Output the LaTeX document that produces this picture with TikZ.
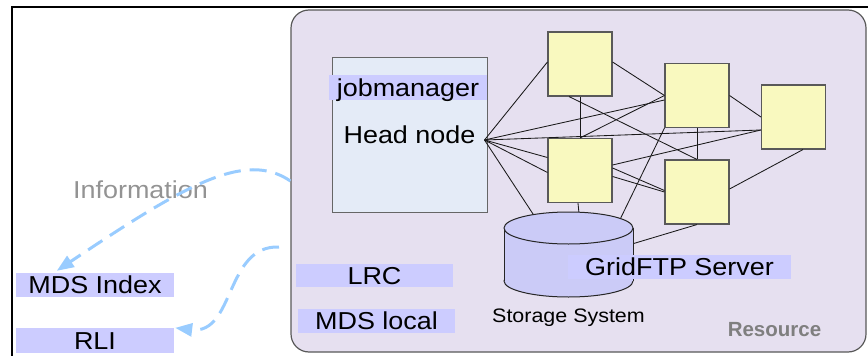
\documentclass[tikz,border=0pt]{standalone}
\usepackage{fontspec}
\setmainfont{Liberation Sans}
\usetikzlibrary{arrows.meta,calc}
\definecolor{resfill}{HTML}{E6E0F0}
\definecolor{headfill}{HTML}{E4EBF7}
\definecolor{yel}{HTML}{F9F9BF}
\definecolor{cylfill}{HTML}{CBCBF7}
\definecolor{hl}{HTML}{CCCCFF}
\definecolor{arr}{HTML}{99CCFF}
\definecolor{infogray}{HTML}{939393}
\definecolor{resgray}{HTML}{7F7F7F}
\newcommand{\wtxt}[1]{\scalebox{1.1}[1]{#1}}
\begin{document}
\begin{tikzpicture}[x=1pt,y=-1pt,
  bigfont/.style={font=\fontsize{24.5}{28}\selectfont},
  lbl/.style={bigfont, fill=hl, inner sep=0pt, text height=17.5pt, text depth=0pt},
  ybox/.style={draw=black!65, fill=yel, minimum width=64pt, minimum height=64pt, inner sep=0pt, line width=1.1pt},
  link/.style={black!90, line width=0.85pt},
  info/.style={arr, line width=3pt, dash pattern=on 17pt off 9pt, -{Triangle[length=17pt,width=13pt]}}]
\useasboundingbox (0,0) rectangle (868,356);
% outer frame
\draw[line width=2.5pt, line join=miter] (12,358) -- (12,7) -- (870,7);
% resource box
\node[draw=black!65, fill=resfill, rounded corners=18pt, line width=1.2pt,
      minimum width=575pt, minimum height=342pt, inner sep=0pt] (res) at (578.5,181) {};
\node[font=\fontsize{20.5}{24}\selectfont\bfseries, text=resgray, inner sep=0pt,
      text height=15pt, text depth=0pt] (reslbl) at (774.5,329.2) {Resource};
% head node
\node[bigfont, draw=black!60, fill=headfill, minimum width=155pt, minimum height=155pt,
      inner sep=0pt, text height=17.5pt, text depth=0pt, line width=1pt] (head) at (409.5,134.5) {\wtxt{Head node}};
\node[lbl, minimum width=157.7pt, minimum height=25pt] (jm) at (408,87.5) {\wtxt{jobmanager}};
\coordinate (hub) at ($(head.east)+(-3,5.5)$);
% compute nodes
\node[ybox] (Y1) at (580,64) {};
\node[ybox] (Y2) at (580,170.5) {};
\node[ybox] (Y3) at (697,95.5) {};
\node[ybox] (Y4) at (697,192) {};
\node[ybox] (Y5) at (793.5,117) {};
% cylinder attach points
\coordinate (cylA) at (534,215.5);
\coordinate (cylB) at (579,213.5);
\coordinate (cylC) at (620,219.5);
\coordinate (cylD) at (632,244);
% links
\draw[link] (hub) -- ($(Y1.west)+(0,-2)$);
\draw[link] (hub) -- ($(Y3.west)+(0,4.5)$);
\draw[link] (hub) -- ($(Y5.west)+(0,13)$);
\draw[link] (hub) -- ($(Y2.west)+(0,-13)$);
\draw[link] (hub) -- ($(Y2.west)+(0,2)$);
\draw[link] (hub) -- (cylA);
\draw[link] ($(Y1.south)+(-11,0)$) -- (Y4.north);
\draw[link] (Y1.south) -- (Y2.north);
\draw[link] ($(Y1.east)+(0,-2)$) -- (Y3.west);
\draw[link] (Y2.north) -- (Y3.west);
\draw[link] (Y3.south) -- (Y4.north);
\draw[link] (Y3.east) -- (Y5.west);
\draw[link] (Y3.south west) -- (cylC);
\draw[link] ($(Y2.east)+(0,-5.5)$) -- ($(Y5.west)+(0,13)$);
\draw[link] ($(Y2.east)+(0,-2.5)$) -- ($(Y4.west)+(0,-1.5)$);
\draw[link] ($(Y2.east)+(0,6)$) -- (Y4.west);
\draw[link] ($(Y2.south)+(-2,0)$) -- (cylB);
\draw[link] ($(Y4.east)+(0,-3)$) -- ($(Y5.south)+(9.5,0)$);
\draw[link] (Y4.south) -- (cylD);
% storage cylinder
\filldraw[fill=cylfill, draw=black!85, line width=1pt] (568.5,281) ellipse [x radius=64.5, y radius=16];
\fill[cylfill] (504,228) rectangle (633,281);
\draw[black!85, line width=1pt] (504,228) -- (504,281) (633,228) -- (633,281);
\filldraw[fill=cylfill, draw=black!85, line width=1pt] (568.5,228) ellipse [x radius=64.5, y radius=16];
\node[lbl, minimum width=223pt, minimum height=24pt] (grid) at (679.5,267) {\wtxt{GridFTP Server}};
\node[font=\fontsize{19.5}{22}\selectfont, text height=14pt, text depth=0pt, inner sep=0pt] (ss) at (568.5,315) {\wtxt{Storage System}};
% local services
\node[lbl, minimum width=157pt, minimum height=23pt] (lrc) at (374.5,275.5) {\wtxt{LRC}};
\node[lbl, minimum width=157pt, minimum height=24pt] (mdsl) at (376.5,321) {\wtxt{MDS local}};
% remote services
\node[lbl, minimum width=158pt, minimum height=24pt] (mdsi) at (95,285) {\wtxt{MDS Index}};
\node[lbl, minimum width=158pt, minimum height=24.5pt] (rli) at (95,340.3) {\wtxt{RLI}};
\node[bigfont, text=infogray, inner sep=0pt, text height=17.5pt, text depth=0pt] (infolbl) at (140.5,190) {\wtxt{Information}};
% information flows
\coordinate (src2) at (279,247);
\draw[info] (res.west) .. controls (245,150) and (185,185) .. ($(mdsi.north west)+(41,-2)$);
\draw[info] (src2) .. controls (225,245) and (235,335) .. ($(rli.north east)+(1,0)$);
\end{tikzpicture}
\end{document}
